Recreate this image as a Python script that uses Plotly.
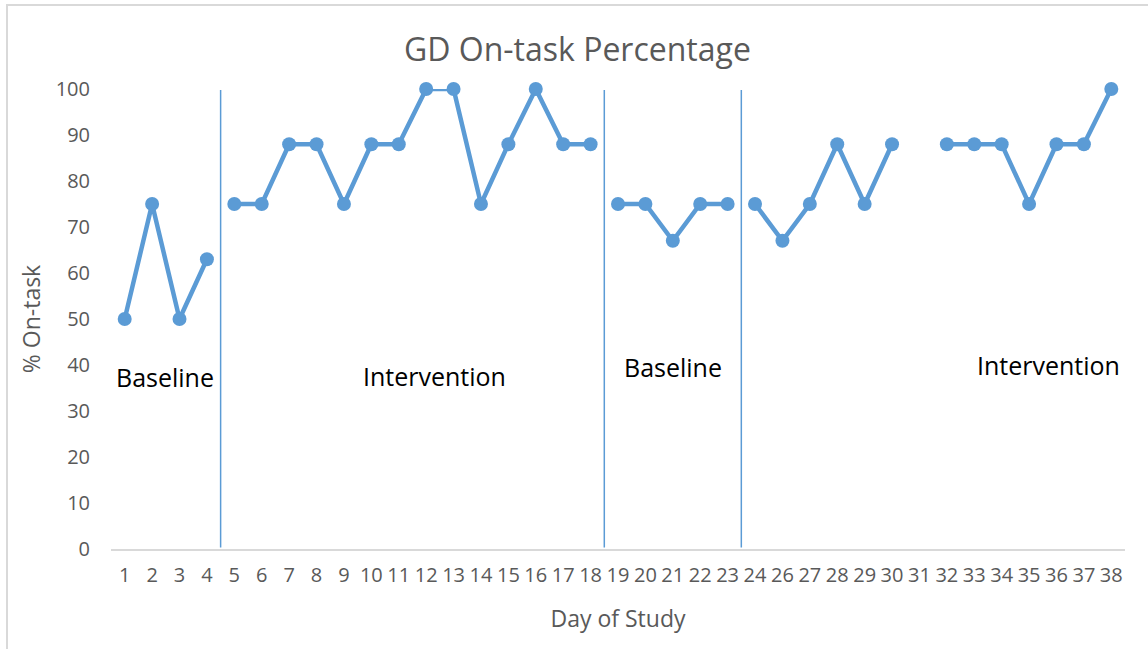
import plotly.graph_objects as go

# day labels on the category axis (no day 25 in the study)
days = [str(d) for d in list(range(1, 25)) + list(range(26, 39))]

# percent on-task per day, None = no observation
on_task = [50, 75, 50, 63,
           75, 75, 88, 88, 75, 88, 88, 100, 100, 75, 88, 100, 88, 88,
           75, 75, 67, 75, 75,
           75, 67, 75, 88, 75, 88, None, 88, 88, 88, 75, 88, 88, 100]

# phase each day belongs to (lines are not joined across phases)
phase = [0] * 4 + [1] * 14 + [2] * 5 + [3] * 14

phase_labels = ["Baseline", "Intervention", "Baseline", "Intervention"]
label_x = [1.46, 11.3, 20.0, 33.7]
label_y = [37.4, 37.6, 39.6, 40.0]

# phase change lines sit between these category indexes
phase_breaks = [3.5, 17.5, 22.5]

BLUE = "#5B9BD5"
GREY_TXT = "#595959"

fig = go.Figure()
for p in range(4):
    idx = [i for i, ph in enumerate(phase) if ph == p]
    fig.add_trace(go.Scatter(
        x=[days[i] for i in idx], y=[on_task[i] for i in idx],
        mode="lines+markers", connectgaps=False, showlegend=False, cliponaxis=False,
        line=dict(color=BLUE, width=4.5),
        marker=dict(color=BLUE, size=14)
    ))

for xb in phase_breaks:
    fig.add_shape(type="line", xref="x", yref="y", x0=xb, x1=xb, y0=0.3, y1=99.8,
                  line=dict(color=BLUE, width=1.5))

for txt, xx, yy in zip(phase_labels, label_x, label_y):
    fig.add_annotation(x=xx, y=yy, xref="x", yref="y", text=txt, showarrow=False,
                       font=dict(family="Open Sans", size=25, color="#000000"))

# outer chart border (only top and left visible in the crop)
fig.add_shape(type="rect", xref="paper", yref="paper",
              x0=-104 / 1014, x1=1.2, y0=-0.3, y1=1 + 84 / 460,
              line=dict(color="#D9D9D9", width=2), layer="below")

fig.update_layout(
    width=1148, height=649,
    margin=dict(l=111, r=23, t=89, b=100),
    plot_bgcolor="white", paper_bgcolor="white",
    font=dict(family="Open Sans", color=GREY_TXT, size=20),
    title=dict(text="GD On-task Percentage", x=0.503, xref="container", xanchor="center",
               y=1 - 50 / 649, yanchor="middle",
               font=dict(family="Open Sans", size=32, color=GREY_TXT)),
    xaxis=dict(type="category", categoryorder="array", categoryarray=days,
               range=[-0.5, len(days) - 0.5], showgrid=False, zeroline=False,
               showline=True, linecolor="#D9D9D9", linewidth=2, ticks="",
               ticklabelstandoff=7,
               tickfont=dict(size=20, color=GREY_TXT),
               title=dict(text="Day of Study", standoff=24,
                          font=dict(size=23, color=GREY_TXT))),
    yaxis=dict(range=[0, 100], dtick=10, showgrid=False, zeroline=False,
               showline=False, ticks="", ticklabelstandoff=20,
               tickfont=dict(size=20, color=GREY_TXT),
               title=dict(text="% On-task", standoff=8,
                          font=dict(size=23, color=GREY_TXT)))
)

fig.write_html("out.html", config={"displayModeBar": False},
               post_script="document.body.style.margin='0';")
